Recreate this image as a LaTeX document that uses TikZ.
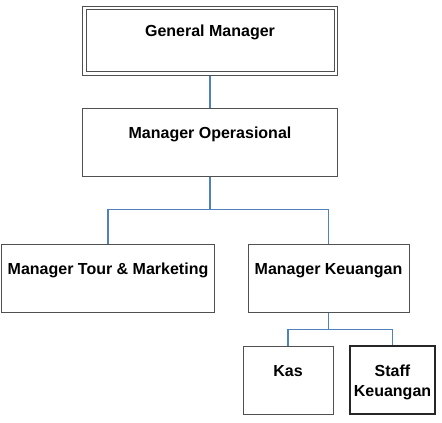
\documentclass[tikz,border=0pt]{standalone}
\usepackage{fontspec}
\setmainfont{Liberation Sans}
\definecolor{linkblue}{RGB}{79,129,189}
\definecolor{boxgray}{RGB}{80,80,80}
\tikzstyle{UnitNode}=[rectangle, draw=boxgray, line width=1bp, inner xsep=0pt, inner ysep=0pt, text height=30bp, text depth=38bp, align=center, font=\bfseries\fontsize{16bp}{20bp}\selectfont]
\tikzstyle{TopNode}=[UnitNode, text depth=39bp]
\tikzstyle{StaffNode}=[UnitNode, draw=black!85, line width=1.8bp, text height=50bp, text depth=18bp]
\tikzstyle{InnerEdge}=[draw=boxgray, line width=1bp]
\tikzstyle{Link}=[draw=linkblue, line width=1.1bp]

\begin{document}
\begin{tikzpicture}[x=1bp, y=-1bp]
\useasboundingbox (0,0) rectangle (442,422);

\node[TopNode, minimum width=255bp](GM) at (210,40.5) {General Manager};
\draw[InnerEdge] ([shift={(4,4)}]GM.north west) rectangle ([shift={(-4,-4)}]GM.south east);
\node[UnitNode, minimum width=255bp](MO) at (210,142) {Manager Operasional};
\node[UnitNode, minimum width=212bp](MTM) at (108,278) {Manager Tour \& Marketing};
\node[UnitNode, minimum width=161bp](MK) at (328.5,278) {Manager Keuangan};
\node[UnitNode, minimum width=90bp](KAS) at (288,380) {Kas};
\node[StaffNode, minimum width=85bp](SK) at (392.5,380) {Staff\\Keuangan};

\draw[Link](GM.south) -- (MO.north);
\draw[Link](MO.south) -- ++(0,33) -| (MTM.north);
\draw[Link](MO.south) -- ++(0,33) -| (MK.north);
\draw[Link](MK.south) -- ++(0,17) -| (KAS.north);
\draw[Link](MK.south) -- ++(0,17) -| (SK.north);
\end{tikzpicture}
\end{document}
